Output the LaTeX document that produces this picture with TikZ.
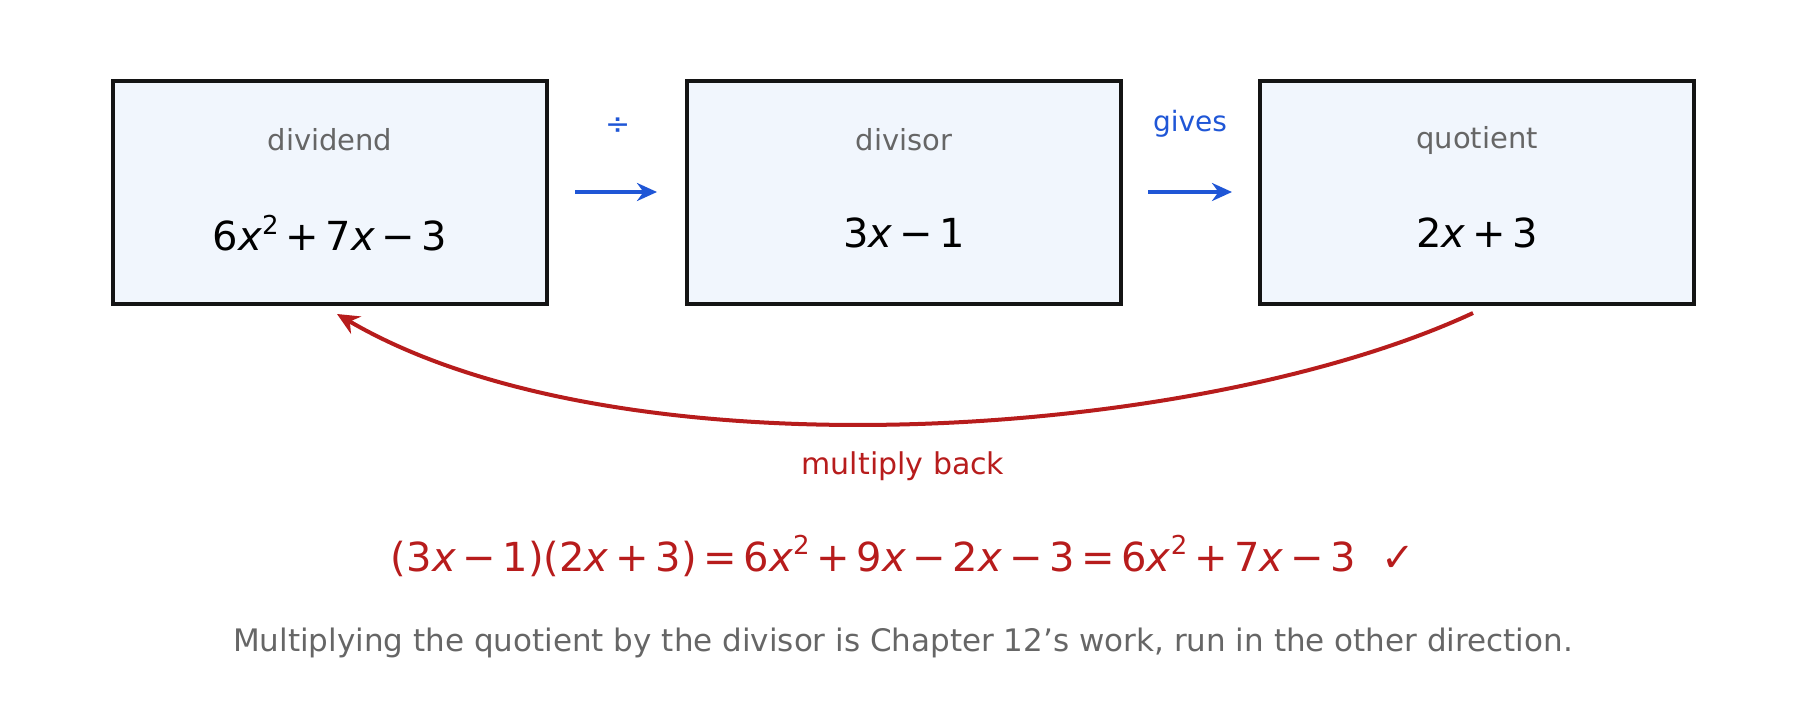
\documentclass[tikz,border=0pt]{standalone}
\usepackage{fontspec}
\setmainfont{DejaVu Sans}
\usetikzlibrary{arrows.meta}
\definecolor{boxfill}{HTML}{F1F6FD}
\definecolor{blu}{HTML}{1F56D6}
\definecolor{rd}{HTML}{B71C1C}
\definecolor{gr}{HTML}{666666}
\newcommand{\vx}{\textit{x}}
\newcommand{\sq}{\raisebox{0.75ex}{\fontsize{13pt}{13pt}\selectfont 2}}
\begin{document}
\begin{tikzpicture}[x=0.5pt,y=-0.5pt,
  box/.style={draw=black!92,line width=2pt,fill=boxfill,minimum width=217pt,minimum height=111.5pt,inner sep=0pt},
  lab/.style={text=gr,font=\fontsize{14.5pt}{16pt}\selectfont},
  mth/.style={font=\fontsize{20pt}{22pt}\selectfont},
  barrow/.style={draw=blu,line width=2pt,-{Stealth[length=10pt,width=9pt]}}]
\useasboundingbox (0,0) rectangle (1807,717);
\node[box] (b1) at (330,192.5) {};
\node[box] (b2) at (904,192.5) {};
\node[box] (b3) at (1477,192.5) {};
\node[lab] (l1) at (330,140) {dividend};
\node[lab] (l2) at (904,140) {divisor};
\node[lab] (l3) at (1477,140) {quotient};
\node[mth] (m1) at (330,233) {6\vx\sq\,+\,7\vx\,−\,3};
\node[mth] (m2) at (904,233) {3\vx\,−\,1};
\node[mth] (m3) at (1477,233) {2\vx\,+\,3};
\coordinate (a1s) at (575,192); \coordinate (a1e) at (657,192);
\coordinate (a2s) at (1148,192); \coordinate (a2e) at (1232,192);
\draw[barrow] (a1s) -- (a1e);
\draw[barrow] (a2s) -- (a2e);
\node[text=blu,font=\fontsize{15pt}{16pt}\selectfont] (div) at (618,126) {÷};
\node[text=blu,font=\fontsize{14pt}{16pt}\selectfont] (gv) at (1190,124) {gives};
\coordinate (rs) at (1473,313); \coordinate (re) at (337,314);
\draw[rd,line width=2pt,-{Stealth[length=11pt,width=10pt]}] (rs) .. controls (1200,440) and (620,480) .. (re);
\node[text=rd,font=\fontsize{15pt}{16pt}\selectfont] (mb) at (903,466) {multiply back};
\node[text=rd,mth] (fm) at (903,556) {(3\vx\,−\,1)(2\vx\,+\,3)\,=\,6\vx\sq\,+\,9\vx\,−\,2\vx\,−\,3\,=\,6\vx\sq\,+\,7\vx\,−\,3\ \ ✓};
\node[text=gr,font=\fontsize{15.5pt}{17pt}\selectfont] (cap) at (903,643) {Multiplying the quotient by the divisor is Chapter 12's work, run in the other direction.};
\end{tikzpicture}
\end{document}
